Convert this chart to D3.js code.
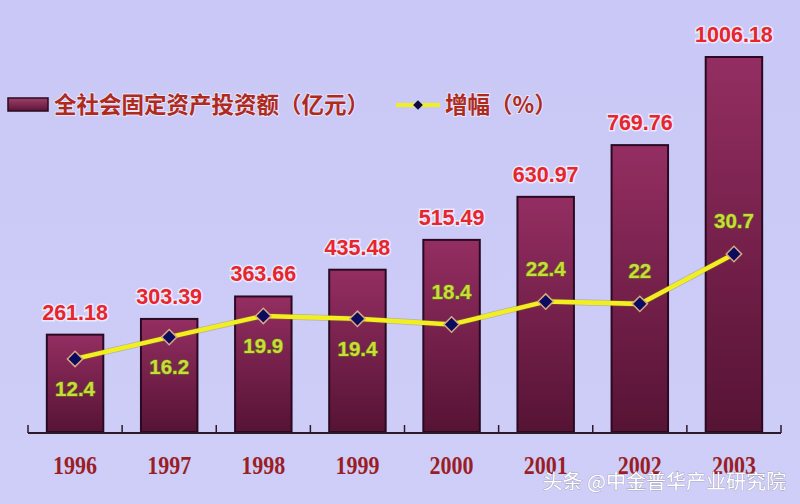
<!DOCTYPE html>
<html><head><meta charset="utf-8">
<script src="https://cdn.jsdelivr.net/npm/d3@7"></script>
<style>html,body{margin:0;padding:0;background:#cbcaf6;}svg{display:block;}</style>
</head><body>
<svg id="c" width="800" height="504"></svg>
<script>
const years = ["1996","1997","1998","1999","2000","2001","2002","2003"];
const investment = [261.18, 303.39, 363.66, 435.48, 515.49, 630.97, 769.76, 1006.18];
const growth = [12.4, 16.2, 19.9, 19.4, 18.4, 22.4, 22, 30.7];
const legendInvest = "全社会固定资产投资额（亿元）";
const legendGrowth = "增幅（%）";
const watermark = "头条 @中金普华产业研究院";

const svg = d3.select("#c");
const W = 800, H = 504;
const defs = svg.append("defs");
const bg = defs.append("linearGradient").attr("id","bg").attr("x1",0).attr("y1",0).attr("x2",0).attr("y2",1);
bg.append("stop").attr("offset","0%").attr("stop-color","#c9c8f6");
bg.append("stop").attr("offset","100%").attr("stop-color","#cfcef8");
const bar = defs.append("linearGradient").attr("id","bar").attr("x1",0).attr("y1",0).attr("x2",0).attr("y2",1);
bar.append("stop").attr("offset","0%").attr("stop-color","#942e62");
bar.append("stop").attr("offset","100%").attr("stop-color","#561334");
const lg = defs.append("linearGradient").attr("id","lg").attr("x1",0).attr("y1",0).attr("x2",0).attr("y2",1);
lg.append("stop").attr("offset","0%").attr("stop-color","#a0406a");
lg.append("stop").attr("offset","100%").attr("stop-color","#5a1535");

svg.append("rect").attr("width",W).attr("height",H).attr("fill","url(#bg)");

const x = d3.scaleBand().domain(years).range([28, 781]).paddingInner(0.4).paddingOuter(0.2);
const y = d3.scaleLinear().domain([0, 1006.18]).range([432, 57]);
const y2 = d3.scaleLinear().domain([0, 75]).range([430, 0]);

// bars
svg.selectAll("rect.bar").data(investment).join("rect")
  .attr("class","bar")
  .attr("x",(d,i)=>x(years[i]))
  .attr("y",d=>y(d))
  .attr("width",x.bandwidth())
  .attr("height",d=>y(0)-y(d))
  .attr("fill","url(#bar)")
  .attr("stroke","#2a0a22").attr("stroke-width",2);

// axis
const step = (781-28)/years.length;
const axisG = svg.append("g");
axisG.append("line").attr("x1",28).attr("x2",781).attr("y1",433).attr("y2",433)
  .attr("stroke","#2a1a2a").attr("stroke-width",2);
d3.range(years.length+1).forEach(i=>{
  const xx = 28 + i*step;
  axisG.append("line").attr("x1",xx).attr("x2",xx).attr("y1",425).attr("y2",433)
    .attr("stroke","#2a1a2a").attr("stroke-width",1.5);
});
svg.selectAll("text.yr").data(years).join("text")
  .attr("class","yr")
  .attr("text-anchor","middle")
  .attr("font-family","'Liberation Serif', serif")
  .attr("font-weight","bold")
  .attr("font-size",25)
  .attr("fill","#9a1e26")
  .attr("transform",d=>`translate(${x(d)+x.bandwidth()/2},474) scale(0.88,1)`)
  .text(d=>d);

// value labels
svg.selectAll("text.val").data(investment).join("text")
  .attr("class","val")
  .attr("x",(d,i)=>x(years[i])+x.bandwidth()/2)
  .attr("y",d=>y(d)-15)
  .attr("text-anchor","middle")
  .attr("font-family","'Liberation Sans', Arial, sans-serif")
  .attr("font-weight","bold")
  .attr("font-size",21.5)
  .attr("fill","#e8242c")
  .attr("stroke","#ffffff").attr("stroke-width",3).attr("stroke-opacity",0.6)
  .attr("paint-order","stroke")
  .text(d=>d.toFixed(2));

// line
const cx = i => x(years[i]) + x.bandwidth()/2;
const line = d3.line().x((d,i)=>cx(i)).y(d=>y2(d));
svg.append("path").datum(growth).attr("d",line)
  .attr("fill","none").attr("stroke","#8a8020").attr("stroke-width",6).attr("stroke-opacity",0.35);
svg.append("path").datum(growth).attr("d",line)
  .attr("fill","none").attr("stroke","#f2ef20").attr("stroke-width",4.5);
svg.selectAll("path.mk").data(growth).join("path")
  .attr("class","mk")
  .attr("d",d3.symbol().type(d3.symbolDiamond2).size(150))
  .attr("transform",(d,i)=>`translate(${cx(i)},${y2(d)})`)
  .attr("fill","#0c0c5e").attr("stroke","#d8a880").attr("stroke-width",1.5);

// growth labels
svg.selectAll("text.gr").data(growth).join("text")
  .attr("class","gr")
  .attr("x",(d,i)=>cx(i))
  .attr("y",(d,i)=> i < 4 ? y2(d)+37 : y2(d)-26)
  .attr("text-anchor","middle")
  .attr("font-family","'Liberation Sans', Arial, sans-serif")
  .attr("font-weight","bold")
  .attr("font-size",20.5)
  .attr("fill","#c8dc3c")
  .attr("stroke","#6a7a10").attr("stroke-width",1.2)
  .attr("paint-order","stroke")
  .text(d=>d);

// legend
const L = svg.append("g");
L.append("rect").attr("x",8).attr("y",98).attr("width",40).attr("height",13)
  .attr("fill","url(#lg)").attr("stroke","#2a0a22").attr("stroke-width",1.5);
L.append("text").attr("x",54).attr("y",113)
  .attr("font-family","'Noto Sans CJK SC', sans-serif").attr("font-weight","bold")
  .attr("font-size",22.5).attr("fill","#b02a1c")
  .attr("stroke","#ffffff").attr("stroke-width",2).attr("stroke-opacity",0.5).attr("paint-order","stroke")
  .text(legendInvest);
L.append("line").attr("x1",396).attr("x2",440).attr("y1",105).attr("y2",105)
  .attr("stroke","#f2ef20").attr("stroke-width",4);
L.append("path").attr("d",d3.symbol().type(d3.symbolDiamond2).size(60))
  .attr("transform","translate(418,105)").attr("fill","#0c0c3e");
L.append("text").attr("x",445).attr("y",113)
  .attr("font-family","'Noto Sans CJK SC', sans-serif").attr("font-weight","bold")
  .attr("font-size",22.5).attr("fill","#b02a1c")
  .attr("stroke","#ffffff").attr("stroke-width",2).attr("stroke-opacity",0.5).attr("paint-order","stroke")
  .text(legendGrowth);

// watermark
svg.append("text").attr("x",786).attr("y",489).attr("text-anchor","end")
  .attr("font-family","'Noto Sans CJK SC', sans-serif").attr("font-size",20)
  .attr("fill","#ffffff").attr("stroke","#333").attr("stroke-width",0.6).attr("stroke-opacity",0.5)
  .attr("paint-order","stroke")
  .text(watermark);
</script>
</body></html>
